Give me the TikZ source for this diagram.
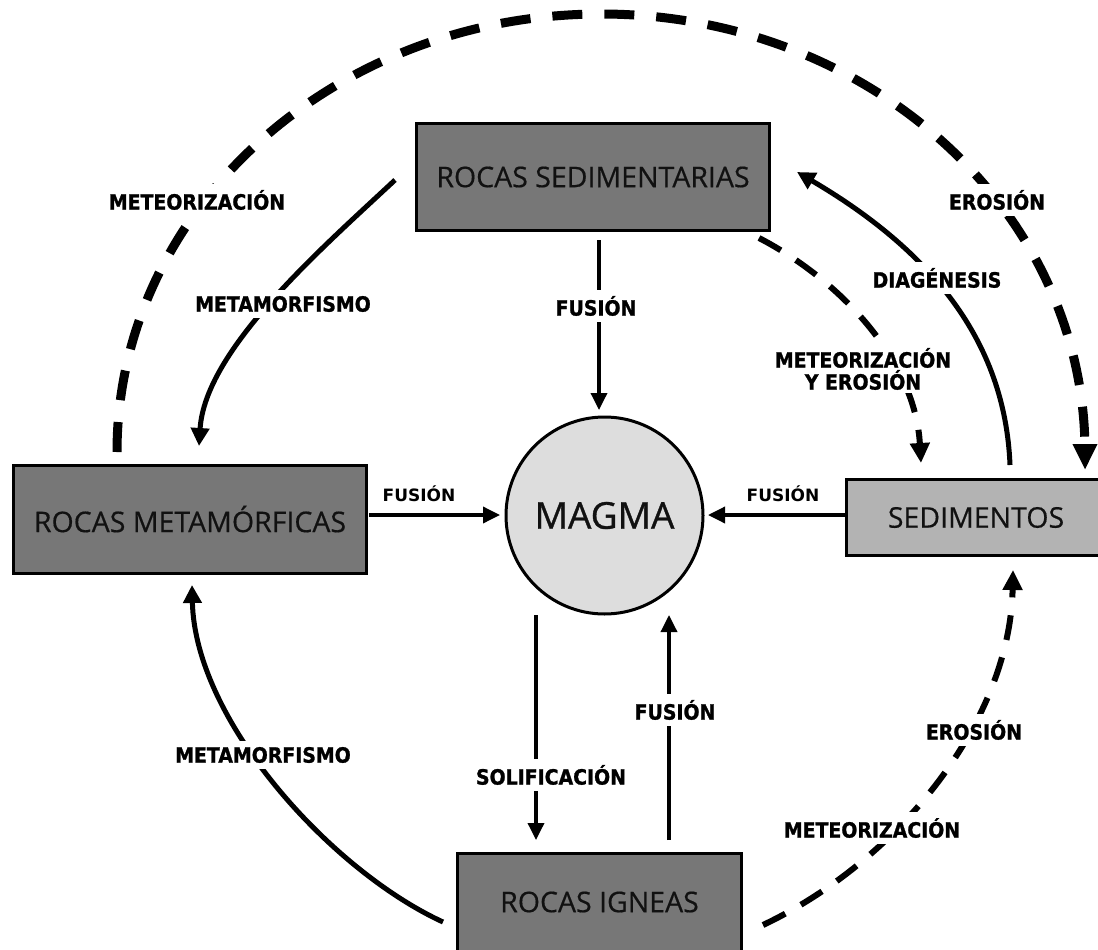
\documentclass[tikz,border=0pt]{standalone}
\usepackage{fontspec}
\setmainfont[FakeBold=0.5]{Open Sans}
\newfontfamily\boxfont[FakeBold=0.5]{Open Sans}
\newfontfamily\labfont[FakeStretch=0.9,FakeBold=1.2]{DejaVu Sans}
\newfontfamily\sidefont{DejaVu Sans}
\newfontfamily\magfont[FakeBold=0.9]{Open Sans}
\usetikzlibrary{arrows.meta}
\definecolor{boxdark}{HTML}{777777}
\definecolor{boxlight}{HTML}{B3B3B3}
\definecolor{magmafill}{HTML}{DDDDDD}
\definecolor{boxtext}{HTML}{111111}
\begin{document}
\begin{tikzpicture}[x=1pt,y=-1pt,
  darkbox/.style={draw=black,line width=3pt,fill=boxdark,inner sep=0pt,text=boxtext,font=\boxfont\fontsize{28.5}{32}\selectfont},
  lightbox/.style={draw=black,line width=3pt,fill=boxlight,inner sep=0pt,text=boxtext,font=\boxfont\fontsize{28.5}{32}\selectfont},
  magmanode/.style={circle,draw=black,line width=3pt,fill=magmafill,minimum size=197pt,inner sep=0pt,text=boxtext,font=\magfont\fontsize{37}{40}\selectfont},
  lab/.style={fill=white,inner xsep=3pt,inner ysep=6pt,font=\labfont\bfseries\fontsize{21}{24}\selectfont,align=center},
  sidelab/.style={inner sep=1pt,font=\sidefont\bfseries\fontsize{17}{20}\selectfont},
  straightarrow/.style={line width=3.5pt,-{Triangle[length=17pt,width=16pt]}},
  curvearrow/.style={line width=5pt,-{Triangle[length=18pt,width=18pt]}},
  thindashed/.style={line width=6pt,dash pattern=on 25pt off 18pt,-{Triangle[length=20pt,width=19pt]}},
  thickdashed/.style={line width=9pt,dash pattern=on 30pt off 22pt,-{Triangle[length=26pt,width=23pt]}}
]
\useasboundingbox (0,0) rectangle (1098,950);
\fill[white] (0,0) rectangle (1098,950);
\clip (0,0) rectangle (1098,950);

% nodes
\node[darkbox,minimum width=353pt,minimum height=107pt] (sed) at (593,177) {ROCAS SEDIMENTARIAS};
\node[darkbox,minimum width=353pt,minimum height=108pt] (met) at (190,519) {ROCAS METAMÓRFICAS};
\node[lightbox,minimum width=259pt,minimum height=76pt] (sedi) at (976,517.5) {SEDIMENTOS};
\node[darkbox,minimum width=284pt,minimum height=98pt] (ign) at (599.5,902) {ROCAS IGNEAS};
\node[magmanode] (magma) at (604.5,515.5) {MAGMA};

% free ends of connectors
\coordinate (fts) at (599,240);
\coordinate (fte) at (599,410);
\coordinate (fls) at (369,515);
\coordinate (fle) at (500,515);
\coordinate (frs) at (845,515);
\coordinate (fre) at (708,515);
\coordinate (sos) at (536,615);
\coordinate (soe) at (536,840);
\coordinate (fbs) at (669,840);
\coordinate (fbe) at (669,615);
\coordinate (mts) at (395,180);
\coordinate (mte) at (199,446);
\coordinate (dgs) at (1010,465);
\coordinate (dge) at (797,172);
\coordinate (mes) at (759,238);
\coordinate (mee) at (921,463);
\coordinate (mbs) at (443,922);
\coordinate (mbe) at (192,585);
\coordinate (brs) at (763,925);
\coordinate (bre) at (1013,570);
\coordinate (arcs) at (117,452);
\coordinate (arce) at (1085,470);

% connectors
\draw[straightarrow] (fts) -- (fte);
\draw[straightarrow] (fls) -- (fle);
\draw[straightarrow] (frs) -- (fre);
\draw[straightarrow] (sos) -- (soe);
\draw[straightarrow] (fbs) -- (fbe);
\draw[curvearrow] (mts) .. controls (320,250) and (205,350) .. (mte);
\draw[curvearrow] (dgs) .. controls (1005,340) and (930,250) .. (dge);
\draw[curvearrow] (mbs) .. controls (330,870) and (195,720) .. (mbe);
\draw[thindashed] (mes) .. controls (840,280) and (915,360) .. (mee);
\draw[thindashed] (brs) .. controls (900,860) and (1010,720) .. (bre);
\draw[thickdashed] (arcs) arc[start angle=180,end angle=360,x radius=484,y radius=438] -- (arce);

% labels
\node[lab] (l1) at (197,200) {METEORIZACIÓN};
\node[lab] (l2) at (997,200) {EROSIÓN};
\node[lab] (l3) at (283,304) {METAMORFISMO};
\node[lab] (l4) at (596,306) {FUSIÓN};
\node[lab] (l5) at (937,278) {DIAGÉNESIS};
\node[lab,inner ysep=3pt] (l6) at (863,369) {METEORIZACIÓN\\[-2pt]Y EROSIÓN};
\node[sidelab] (l7) at (419,494) {FUSIÓN};
\node[sidelab] (l8) at (783,494) {FUSIÓN};
\node[lab] (l9) at (551,775) {SOLIFICACIÓN};
\node[lab] (l10) at (675,710) {FUSIÓN};
\node[lab] (l11) at (263,755) {METAMORFISMO};
\node[lab] (l12) at (974,730) {EROSIÓN};
\node[lab] (l13) at (872,828) {METEORIZACIÓN};
\end{tikzpicture}
\end{document}
